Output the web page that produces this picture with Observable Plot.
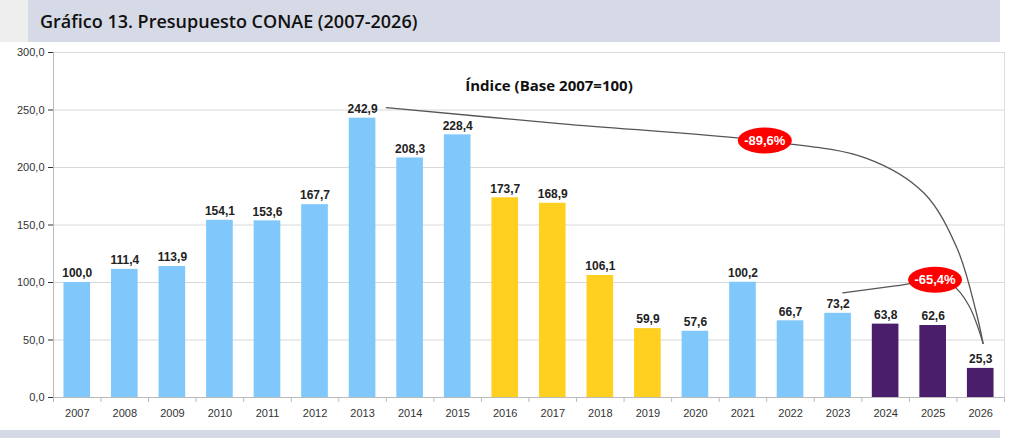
<!DOCTYPE html>
<html><head><meta charset="utf-8">
<script src="https://cdn.jsdelivr.net/npm/d3@7"></script>
<script src="https://cdn.jsdelivr.net/npm/@observablehq/plot@0.6"></script>
<style>
body{margin:0;background:#fff;width:1024px;height:438px;position:relative;overflow:hidden;font-family:"Liberation Sans",Arial,sans-serif}
#hdr{position:absolute;left:28px;top:0;width:972px;height:42px;background:#d6dae6;font-family:"Open Sans",sans-serif;font-weight:600;font-size:18px;color:#111;line-height:42px;padding-left:12px;box-sizing:border-box}
#hdrL{position:absolute;left:0;top:0;width:28px;height:42px;background:#eeeeee}
#ftr{position:absolute;left:0;top:430px;width:1000px;height:8px;background:#d6dae6}
#chart{position:absolute;left:0;top:42px}
</style></head><body>
<div id="hdrL"></div><div id="hdr">Gráfico 13. Presupuesto CONAE (2007-2026)</div>
<div id="chart"></div><div id="ftr"></div>
<script>
const years=[2007,2008,2009,2010,2011,2012,2013,2014,2015,2016,2017,2018,2019,2020,2021,2022,2023,2024,2025,2026];
const values=[100.0,111.4,113.9,154.1,153.6,167.7,242.9,208.3,228.4,173.7,168.9,106.1,59.9,57.6,100.2,66.7,73.2,63.8,62.6,25.3];
const groups=["a","a","a","a","a","a","a","a","a","b","b","b","b","a","a","a","a","c","c","c"];
const curve1=[[2013.5,252],[2017.2,238],[2021.47,223],[2023.6,208],[2024.8,178],[2025.5,130],[2025.9,75],[2026.05,47]];
const curve2=[[2023.1,91],[2024.2,97],[2025.05,102],[2025.4,98],[2025.75,80],[2026.05,47]];
const badges=[{x:2021.47,y:223,t:"-89,6%"},{x:2025.05,y:102,t:"-65,4%"}];
const yTicks=[0,50,100,150,200,250,300];
const data=years.map((y,i)=>({year:y,v:values[i],g:groups[i]}));
const fmt=d3.format(".1f");const comma=v=>fmt(v).replace(".",",");
const colors={a:"#80c8fb",b:"#ffd020",c:"#4a1e6b"};
const badgeMark=(index,scales)=>{
  const g=d3.create("svg:g");
  for(const b of badges){
    const cx=scales.x(b.x),cy=scales.y(b.y);
    g.append("ellipse").attr("cx",cx).attr("cy",cy).attr("rx",27).attr("ry",13).attr("fill","#ff0000");
    g.append("text").attr("x",cx).attr("y",cy).attr("dy","0.35em").attr("text-anchor","middle").attr("fill","#fff").attr("font-weight","bold").attr("font-size",13).attr("font-family","Liberation Sans, Arial").text(b.t);
  }
  return g.node();
};
const plot=Plot.plot({
  width:1024,height:388,marginTop:10,marginBottom:33,marginLeft:53,marginRight:20,
  style:{fontFamily:"Liberation Sans, Arial, sans-serif",fontSize:"11px",color:"#333"},
  x:{type:"linear",domain:[2006.5,2026.5],ticks:years,tickFormat:d=>String(d),tickSize:0,tickPadding:12,label:null},
  y:{type:"linear",domain:[0,300],ticks:yTicks,tickFormat:comma,tickSize:5,label:null},
  marks:[
    Plot.gridY(yTicks,{stroke:"#d8d8d8",strokeOpacity:1}),
    Plot.ruleX([2006.5],{stroke:"#bbb"}),
    Plot.ruleX([2026.5],{stroke:"#ddd"}),
    Plot.rectY(data,{x1:d=>d.year-0.28,x2:d=>d.year+0.28,y:"v",fill:d=>colors[d.g]}),
    Plot.text(data,{x:"year",y:"v",text:d=>comma(d.v),dy:-9,fontWeight:"bold",fontSize:12,fill:"#222"}),
    Plot.ruleY([0],{stroke:"#bbb"}),
    Plot.ruleX(d3.range(2006.5,2027,1),{y1:0,y2:0,insetBottom:-5,stroke:"#bbb"}),
    Plot.line(curve1,{x:d=>d[0],y:d=>d[1],curve:"catmull-rom",stroke:"#555",strokeWidth:1.3}),
    Plot.line(curve2,{x:d=>d[0],y:d=>d[1],curve:"catmull-rom",stroke:"#555",strokeWidth:1.3}),
    badgeMark,
    Plot.text(["Índice (Base 2007=100)"],{frameAnchor:"top",dy:28,dx:20,fontWeight:"bold",fontSize:15,fontFamily:"Open Sans, sans-serif",fill:"#111"})
  ]
});
document.getElementById("chart").append(plot);
</script></body></html>
